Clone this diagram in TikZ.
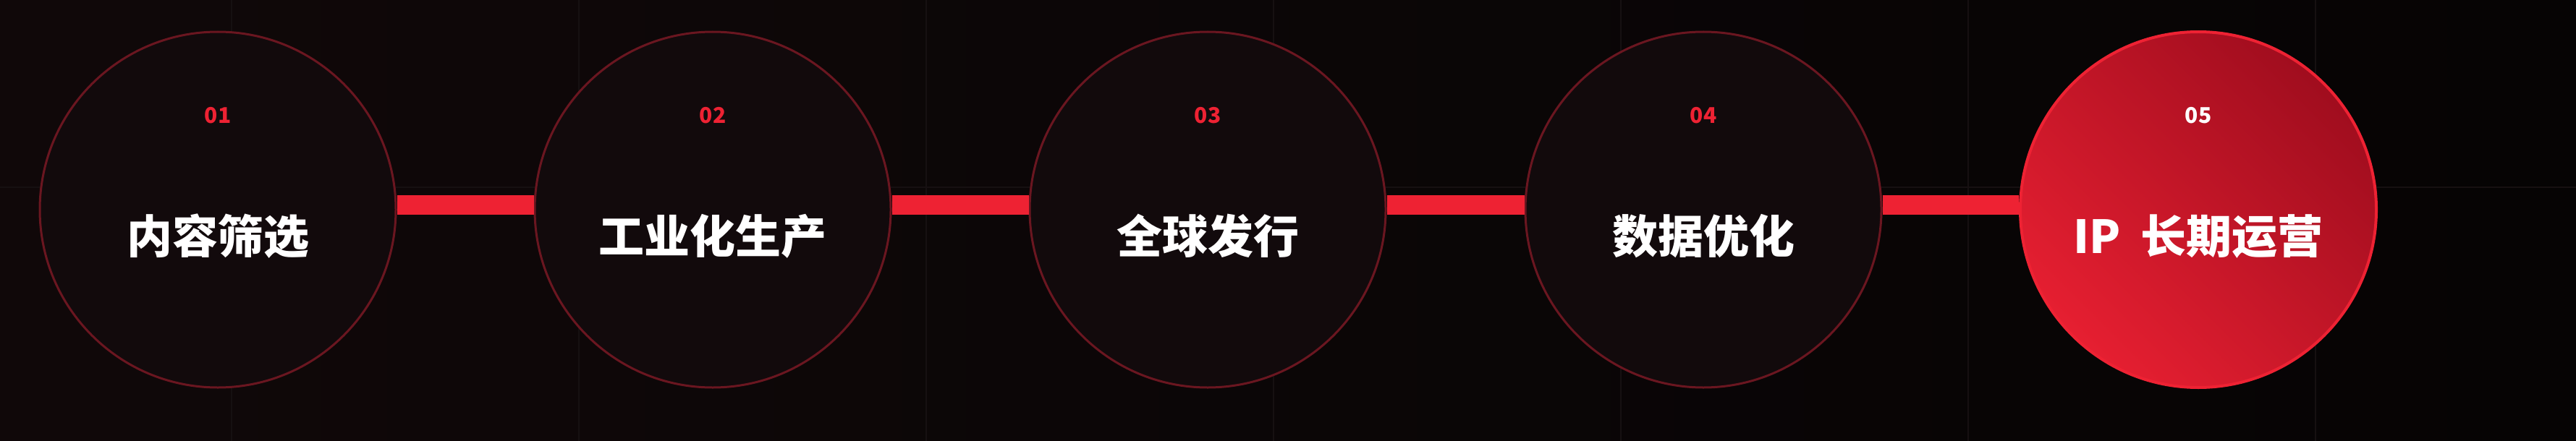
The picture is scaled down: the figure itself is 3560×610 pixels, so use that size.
\documentclass[tikz,border=0pt]{standalone}
\usepackage{fontspec}
\newfontfamily\cjk{Noto Sans CJK SC}
\usetikzlibrary{positioning}
\definecolor{bgL}{HTML}{100809}
\definecolor{bgR}{HTML}{060404}
\definecolor{gridc}{HTML}{161011}
\definecolor{ringdark}{HTML}{6A1620}
\definecolor{filldark}{HTML}{120A0C}
\definecolor{accent}{HTML}{EE2233}
\definecolor{hotA}{HTML}{E61F31}
\definecolor{hotB}{HTML}{A00D1E}
\tikzset{
  stage/.style={circle, minimum size=246pt, inner sep=0pt, line width=1.5pt, draw=ringdark, fill=filldark},
  hotstage/.style={circle, minimum size=246pt, inner sep=0pt, line width=2pt, draw=accent,
     shading=axis, left color=hotB, right color=hotA, shading angle=-45},
  numlabel/.style={anchor=base, font=\cjk\bfseries\fontsize{15pt}{15pt}\selectfont, text=accent, inner sep=0pt},
  numlabelw/.style={numlabel, text=white},
  title/.style={anchor=base, font=\cjk\bfseries\fontsize{31.5pt}{31.5pt}\selectfont, text=white, inner sep=0pt},
  bar/.style={line width=13.5pt, draw=accent},
  gridline/.style={line width=1pt, draw=gridc}
}
\begin{document}
\begin{tikzpicture}[x=0.5pt, y=-0.5pt]
\useasboundingbox (0,0) rectangle (3560,610);
\shade[left color=bgL, right color=bgR] (0,0) rectangle (3560,610);
\foreach \gx in {320,800,1280,1760,2240,2720,3200}
  \draw[gridline] (\gx,0) -- (\gx,610);
\draw[gridline] (0,259) -- (3560,259);
% stages
\node[stage] (s1) at (301,290) {};
\node[stage] (s2) at (985,290) {};
\node[stage] (s3) at (1669,290) {};
\node[stage] (s4) at (2354,290) {};
\node[hotstage] (s5) at (3038,290) {};
% connectors
\draw[bar] ([yshift=3.25pt]s1.east) -- ([yshift=3.25pt]s2.west);
\draw[bar] ([yshift=3.25pt]s2.east) -- ([yshift=3.25pt]s3.west);
\draw[bar] ([yshift=3.25pt]s3.east) -- ([yshift=3.25pt]s4.west);
\draw[bar] ([yshift=3.25pt]s4.east) -- ([yshift=3.25pt]s5.west);
% labels
\node[numlabel] (n1) at (301,170) {01};
\node[numlabel] (n2) at (985,170) {02};
\node[numlabel] (n3) at (1669,170) {03};
\node[numlabel] (n4) at (2354,170) {04};
\node[numlabelw] (n5) at (3038,170) {05};
\node[title] (t1) at (301,350) {内容筛选};
\node[title] (t2) at (985,350) {工业化生产};
\node[title] (t3) at (1669,350) {全球发行};
\node[title] (t4) at (2354,350) {数据优化};
\node[title] (t5) at (3038,350) {IP\hspace{0.45em}长期运营};
\end{tikzpicture}
\end{document}
